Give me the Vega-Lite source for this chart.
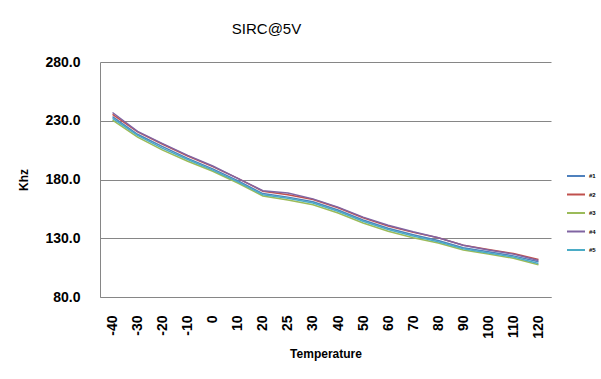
{
  "$schema": "https://vega.github.io/schema/vega-lite/v6.json",
  "autosize": "none",
  "width": 451,
  "height": 235,
  "padding": {"left": 100, "top": 62, "right": 50, "bottom": 82},
  "background": "white",
  "title": {"text": "SIRC@5V", "fontSize": 15, "fontWeight": "normal", "font": "Liberation Sans", "color": "#000000", "offset": 18, "dx": -59, "anchor": "middle"},
  "config": {
    "view": {"stroke": null},
    "font": "Liberation Sans"
  },
  "data": {"values": [
    {"t": "-40", "s": "#1", "v": 233.5}, {"t": "-40", "s": "#2", "v": 235.5}, {"t": "-40", "s": "#3", "v": 230.5}, {"t": "-40", "s": "#4", "v": 237}, {"t": "-40", "s": "#5", "v": 232},
    {"t": "-30", "s": "#1", "v": 218.5}, {"t": "-30", "s": "#2", "v": 220.5}, {"t": "-30", "s": "#3", "v": 216}, {"t": "-30", "s": "#4", "v": 221}, {"t": "-30", "s": "#5", "v": 217.5},
    {"t": "-20", "s": "#1", "v": 208}, {"t": "-20", "s": "#2", "v": 210}, {"t": "-20", "s": "#3", "v": 205}, {"t": "-20", "s": "#4", "v": 210.5}, {"t": "-20", "s": "#5", "v": 206.5},
    {"t": "-10", "s": "#1", "v": 198}, {"t": "-10", "s": "#2", "v": 200}, {"t": "-10", "s": "#3", "v": 195.5}, {"t": "-10", "s": "#4", "v": 200.5}, {"t": "-10", "s": "#5", "v": 197},
    {"t": "0", "s": "#1", "v": 189}, {"t": "0", "s": "#2", "v": 191}, {"t": "0", "s": "#3", "v": 187}, {"t": "0", "s": "#4", "v": 191.5}, {"t": "0", "s": "#5", "v": 188},
    {"t": "10", "s": "#1", "v": 179}, {"t": "10", "s": "#2", "v": 181}, {"t": "10", "s": "#3", "v": 177}, {"t": "10", "s": "#4", "v": 181}, {"t": "10", "s": "#5", "v": 178},
    {"t": "20", "s": "#1", "v": 168}, {"t": "20", "s": "#2", "v": 170}, {"t": "20", "s": "#3", "v": 166}, {"t": "20", "s": "#4", "v": 170.5}, {"t": "20", "s": "#5", "v": 167},
    {"t": "25", "s": "#1", "v": 165}, {"t": "25", "s": "#2", "v": 167}, {"t": "25", "s": "#3", "v": 162.5}, {"t": "25", "s": "#4", "v": 168.5}, {"t": "25", "s": "#5", "v": 164},
    {"t": "30", "s": "#1", "v": 161}, {"t": "30", "s": "#2", "v": 163}, {"t": "30", "s": "#3", "v": 158.5}, {"t": "30", "s": "#4", "v": 163.5}, {"t": "30", "s": "#5", "v": 160},
    {"t": "40", "s": "#1", "v": 154}, {"t": "40", "s": "#2", "v": 156}, {"t": "40", "s": "#3", "v": 151.5}, {"t": "40", "s": "#4", "v": 156.5}, {"t": "40", "s": "#5", "v": 153},
    {"t": "50", "s": "#1", "v": 145.5}, {"t": "50", "s": "#2", "v": 147.5}, {"t": "50", "s": "#3", "v": 143}, {"t": "50", "s": "#4", "v": 148}, {"t": "50", "s": "#5", "v": 144.5},
    {"t": "60", "s": "#1", "v": 138.5}, {"t": "60", "s": "#2", "v": 140.5}, {"t": "60", "s": "#3", "v": 136}, {"t": "60", "s": "#4", "v": 141}, {"t": "60", "s": "#5", "v": 137.5},
    {"t": "70", "s": "#1", "v": 133}, {"t": "70", "s": "#2", "v": 135}, {"t": "70", "s": "#3", "v": 130.5}, {"t": "70", "s": "#4", "v": 135.5}, {"t": "70", "s": "#5", "v": 132},
    {"t": "80", "s": "#1", "v": 128}, {"t": "80", "s": "#2", "v": 130.5}, {"t": "80", "s": "#3", "v": 126}, {"t": "80", "s": "#4", "v": 130.5}, {"t": "80", "s": "#5", "v": 127},
    {"t": "90", "s": "#1", "v": 122}, {"t": "90", "s": "#2", "v": 124}, {"t": "90", "s": "#3", "v": 120}, {"t": "90", "s": "#4", "v": 124}, {"t": "90", "s": "#5", "v": 121},
    {"t": "100", "s": "#1", "v": 118.5}, {"t": "100", "s": "#2", "v": 120.5}, {"t": "100", "s": "#3", "v": 116.5}, {"t": "100", "s": "#4", "v": 120}, {"t": "100", "s": "#5", "v": 117.5},
    {"t": "110", "s": "#1", "v": 115}, {"t": "110", "s": "#2", "v": 117}, {"t": "110", "s": "#3", "v": 113}, {"t": "110", "s": "#4", "v": 116.5}, {"t": "110", "s": "#5", "v": 114},
    {"t": "120", "s": "#1", "v": 110}, {"t": "120", "s": "#2", "v": 112}, {"t": "120", "s": "#3", "v": 107.5}, {"t": "120", "s": "#4", "v": 111}, {"t": "120", "s": "#5", "v": 108.5}
  ]},
  "mark": {"type": "line", "strokeWidth": 1.5},
  "encoding": {
    "x": {
      "field": "t", "type": "ordinal",
      "sort": ["-40", "-30", "-20", "-10", "0", "10", "20", "25", "30", "40", "50", "60", "70", "80", "90", "100", "110", "120"],
      "scale": {"type": "point", "padding": 0.5},
      "axis": {
        "title": "Temperature", "titleFontSize": 12, "titleFontWeight": "bold", "titleColor": "#000", "titlePadding": 10,
        "labelAngle": 270, "labelAlign": "right", "labelBaseline": "middle", "labelFontSize": 14, "labelFontWeight": "bold", "labelColor": "#000", "labelPadding": 18,
        "ticks": false, "grid": false, "domainColor": "#868686", "domainWidth": 1
      }
    },
    "y": {
      "field": "v", "type": "quantitative",
      "scale": {"domain": [80, 280], "nice": false},
      "axis": {
        "title": "Khz", "titleFontSize": 12, "titleFontWeight": "bold", "titleColor": "#000", "titlePadding": 14,
        "values": [80, 130, 180, 230, 280], "format": ".1f",
        "labelFontSize": 14, "labelFontWeight": "bold", "labelColor": "#000", "labelPadding": 20,
        "ticks": false, "grid": true, "gridColor": "#868686", "gridWidth": 1, "domainColor": "#868686", "domainWidth": 1
      }
    },
    "color": {
      "field": "s", "type": "nominal",
      "scale": {"domain": ["#1", "#2", "#3", "#4", "#5"], "range": ["#4F81BD", "#C0504D", "#9BBB59", "#8064A2", "#4BACC6"]},
      "legend": {
        "title": null, "orient": "none", "legendX": 466, "legendY": 104,
        "symbolType": "stroke", "symbolSize": 324, "symbolStrokeWidth": 2,
        "labelFontSize": 6, "labelFontWeight": "bold", "labelColor": "#000", "rowPadding": 4.5, "labelOffset": 3
      }
    }
  }
}
